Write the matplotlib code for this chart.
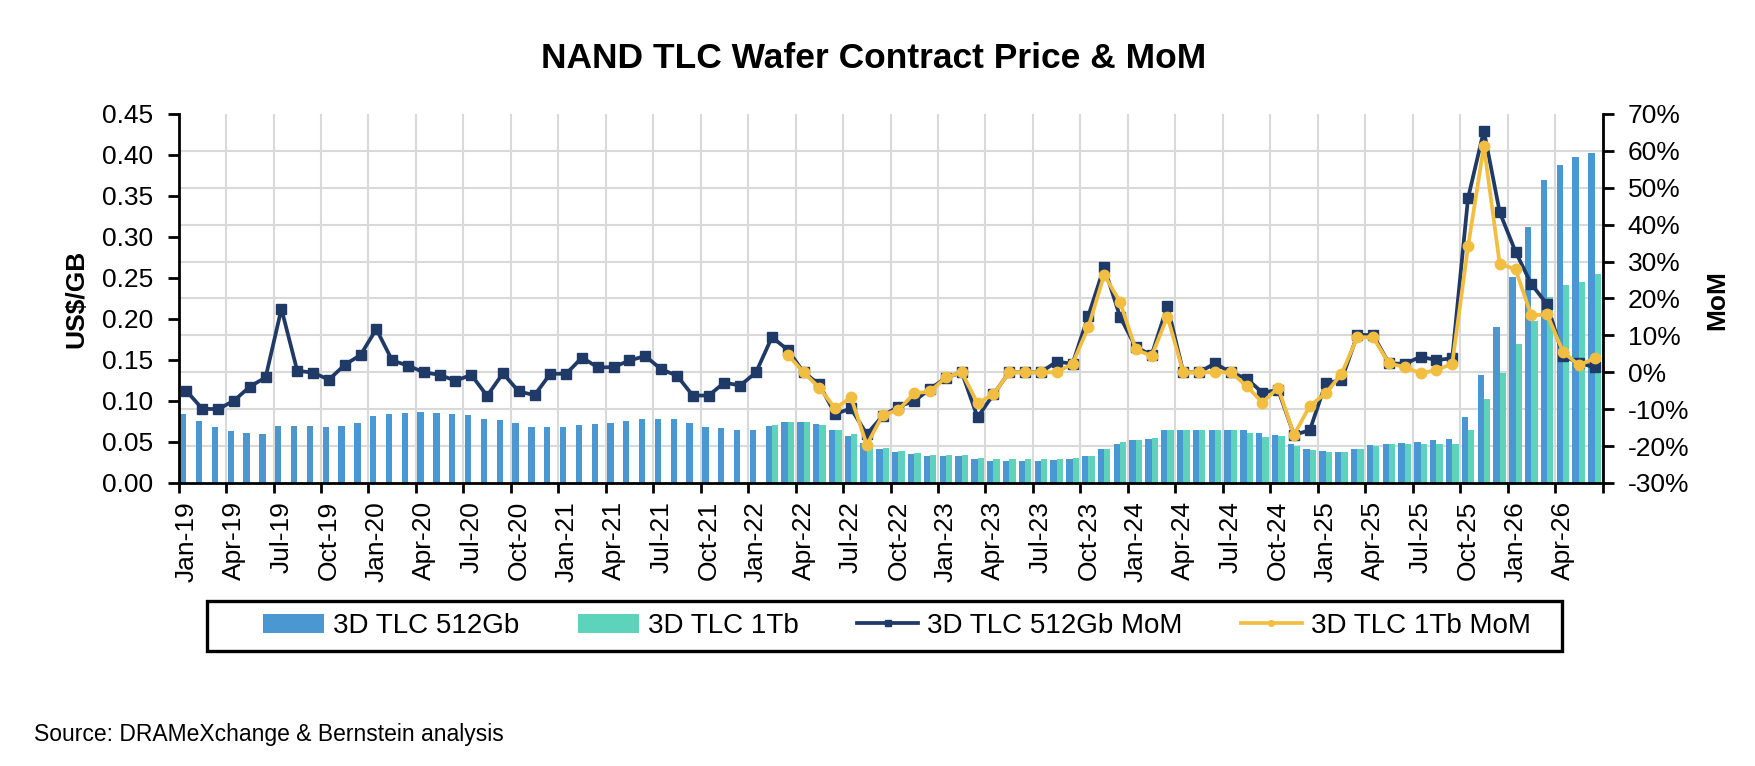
import numpy as np
import matplotlib.pyplot as plt
from matplotlib.patches import Rectangle
from matplotlib.ticker import FuncFormatter

plt.rcParams['font.family'] = ['Liberation Sans', 'DejaVu Sans']

# Monthly data, Jan-19 .. Jun-26 (90 months)
quarter_labels = [
    "Jan-19", "Apr-19", "Jul-19", "Oct-19", "Jan-20", "Apr-20", "Jul-20", "Oct-20",
    "Jan-21", "Apr-21", "Jul-21", "Oct-21", "Jan-22", "Apr-22", "Jul-22", "Oct-22",
    "Jan-23", "Apr-23", "Jul-23", "Oct-23", "Jan-24", "Apr-24", "Jul-24", "Oct-24",
    "Jan-25", "Apr-25", "Jul-25", "Oct-25", "Jan-26", "Apr-26",
]

# 3D TLC 512Gb price, US$/GB
price_512 = [
    0.084, 0.0756, 0.068, 0.063, 0.0606, 0.060, 0.070, 0.070, 0.070, 0.068, 0.070, 0.0736,
    0.0817, 0.0846, 0.0858, 0.0862, 0.0854, 0.0837, 0.083, 0.0776, 0.0772, 0.0732, 0.0683, 0.0683,
    0.068, 0.0707, 0.072, 0.0728, 0.075, 0.0776, 0.0785, 0.0776, 0.0732, 0.0687, 0.0667, 0.0646,
    0.0646, 0.070, 0.074, 0.074, 0.072, 0.0646, 0.0577, 0.049, 0.042, 0.038, 0.035, 0.033,
    0.033, 0.033, 0.029, 0.027, 0.027, 0.027, 0.027, 0.028, 0.029, 0.033, 0.042, 0.048,
    0.052, 0.054, 0.064, 0.064, 0.064, 0.0646, 0.0646, 0.064, 0.061, 0.058, 0.048, 0.041,
    0.039, 0.038, 0.042, 0.046, 0.0476, 0.049, 0.050, 0.052, 0.0537, 0.080, 0.132, 0.190,
    0.251, 0.312, 0.370, 0.388, 0.397, 0.402,
]

# 3D TLC 1Tb price, US$/GB (starts Feb-22)
price_1tb = [np.nan] * 37 + [
    0.0707, 0.074, 0.074, 0.0707, 0.0646, 0.0598, 0.048, 0.043, 0.039, 0.0366, 0.034,
    0.034, 0.034, 0.031, 0.029, 0.029, 0.029, 0.029, 0.029, 0.030, 0.033, 0.042, 0.050,
    0.052, 0.055, 0.064, 0.064, 0.064, 0.064, 0.064, 0.061, 0.0565, 0.057, 0.045, 0.040,
    0.038, 0.038, 0.041, 0.045, 0.0476, 0.0476, 0.0476, 0.0476, 0.048, 0.065, 0.103, 0.134,
    0.170, 0.197, 0.227, 0.241, 0.2455, 0.255,
]

# MoM change, %
mom_512 = [
    -5.1, -9.9, -10.0, -7.7, -3.9, -1.4, 17.2, 0.4, -0.1, -2.0, 2.0, 4.7,
    11.7, 3.2, 1.8, 0.0, -0.7, -2.3, -0.7, -6.4, -0.3, -5.2, -6.2, -0.4,
    -0.4, 4.0, 1.3, 1.4, 3.2, 4.4, 0.8, -0.9, -6.3, -6.3, -2.8, -3.6,
    0.0, 9.5, 6.1, 0.0, -3.3, -11.3, -9.8, -16.8, -11.8, -9.3, -7.8, -4.5,
    -1.5, 0.0, -12.2, -6.0, 0.0, 0.0, 0.0, 2.9, 2.3, 15.3, 28.5, 15.1,
    6.8, 4.7, 18.0, 0.0, 0.0, 2.4, 0.0, -1.7, -5.5, -4.8, -17.0, -15.7,
    -3.0, -2.1, 10.1, 10.1, 2.4, 2.3, 4.2, 3.3, 3.8, 47.2, 65.5, 43.4,
    32.7, 23.9, 18.4, 4.4, 2.6, 1.3,
]

mom_1tb = [np.nan] * 38 + [
    4.8, 0.0, -4.2, -9.8, -6.8, -19.7, -11.6, -10.2, -5.7, -5.2,
    -1.4, 0.0, -8.4, -6.0, 0.0, 0.0, 0.0, 0.0, 2.3, 12.2, 26.4, 19.1,
    6.2, 4.4, 15.1, 0.0, 0.0, 0.0, 0.0, -3.7, -8.2, -4.2, -17.0, -9.1,
    -5.7, -0.5, 9.5, 9.5, 2.4, 1.4, -0.3, 0.6, 2.3, 34.1, 61.3, 29.4,
    27.9, 15.4, 15.7, 5.6, 1.9, 3.8,
]

blue = '#4A97D2'
teal = '#5DD3BB'
navy = '#1F3A66'
gold = '#F2BE42'

x = np.arange(len(price_512))

fig = plt.figure(figsize=(17.56, 7.66), dpi=100)
ax = fig.add_axes([0.1017, 0.3695, 0.9126 - 0.1017, 0.8512 - 0.3695])
ax2 = ax.twinx()

b1 = ax.bar(x - 0.2, price_512, width=0.4, color=blue, label='3D TLC 512Gb', zorder=2)
b2 = ax.bar(x + 0.2, price_1tb, width=0.4, color=teal, label='3D TLC 1Tb', zorder=2)

l1, = ax2.plot(x, mom_512, color=navy, lw=2.7, marker='s', ms=7,
               label='3D TLC 512Gb MoM', zorder=3)
l2, = ax2.plot(x, mom_1tb, color=gold, lw=2.7, marker='o', ms=7.5,
               label='3D TLC 1Tb MoM', zorder=4)

# left axis
ax.set_xlim(-0.5, len(x) - 0.5)
ax.set_ylim(0, 0.45)
ax.set_yticks(np.arange(0, 0.451, 0.05))
ax.yaxis.set_major_formatter(FuncFormatter(lambda v, p: f"{v:.2f}"))
# horizontal gridlines follow the right-axis 10% steps
ax.set_yticks(np.linspace(0, 0.45, 11), minor=True)
ax.set_xticks(np.arange(-0.5, len(x), 3))
ax.set_xticklabels([])
ax.set_xticks(np.arange(0, len(x), 3), minor=True)
ax.set_xticklabels(quarter_labels, minor=True, rotation=90)
ax.tick_params(axis='x', which='major', length=7, width=2, direction='out')
ax.tick_params(axis='x', which='minor', length=0, pad=13, labelsize=19)
ax.tick_params(axis='y', which='major', length=8, width=2, pad=10, labelsize=19)
ax.tick_params(axis='y', which='minor', length=0)
ax.grid(True, which='major', axis='x', color='#D9D9D9', lw=1.5)
ax.grid(True, which='minor', axis='y', color='#D9D9D9', lw=1.5)
ax.set_axisbelow(True)

# right axis
ax2.set_ylim(-30, 70)
ax2.set_yticks(np.arange(-30, 71, 10))
ax2.yaxis.set_major_formatter(FuncFormatter(lambda v, p: f"{v:.0f}%"))
ax2.tick_params(axis='y', length=8, width=2, pad=10, labelsize=19)

for a in (ax, ax2):
    a.spines['top'].set_visible(False)
ax.spines['right'].set_visible(False)
ax2.spines['left'].set_visible(False)
ax2.spines['bottom'].set_visible(False)
for s in ('left', 'bottom'):
    ax.spines[s].set_linewidth(2)
ax2.spines['right'].set_linewidth(2)

fig.text(0.4975, 1 - 68 / 766, 'NAND TLC Wafer Contract Price & MoM',
         ha='center', va='baseline', fontsize=25.5, fontweight='bold')
fig.text(76 / 1756, 1 - 299 / 766, r'US\$/GB', rotation=90, ha='center', va='center',
         fontsize=19, fontweight='bold')
fig.text(1717 / 1756, 1 - 300 / 766, 'MoM', rotation=90, ha='center', va='center',
         fontsize=19, fontweight='bold')
fig.text(34 / 1756, 1 - 741 / 766, 'Source: DRAMeXchange & Bernstein analysis',
         ha='left', va='baseline', fontsize=16.5)

# legend entries (frameless) inside a separate box spanning x 207..1562, y 601..651 px
leg = fig.legend(handles=[b1, b2, l1, l2], loc='center', ncol=4,
                 bbox_to_anchor=(897 / 1756, 1 - 626 / 766),
                 fontsize=20, frameon=False,
                 handlelength=2.2, handletextpad=0.32, columnspacing=2.1,
                 borderpad=0, markerscale=0.55)
fig.patches.append(Rectangle((207 / 1756, 1 - 651 / 766), 1355 / 1756, 50 / 766,
                             transform=fig.transFigure, fill=False,
                             edgecolor='black', lw=2.4))

fig.savefig('out.png', dpi=100)
